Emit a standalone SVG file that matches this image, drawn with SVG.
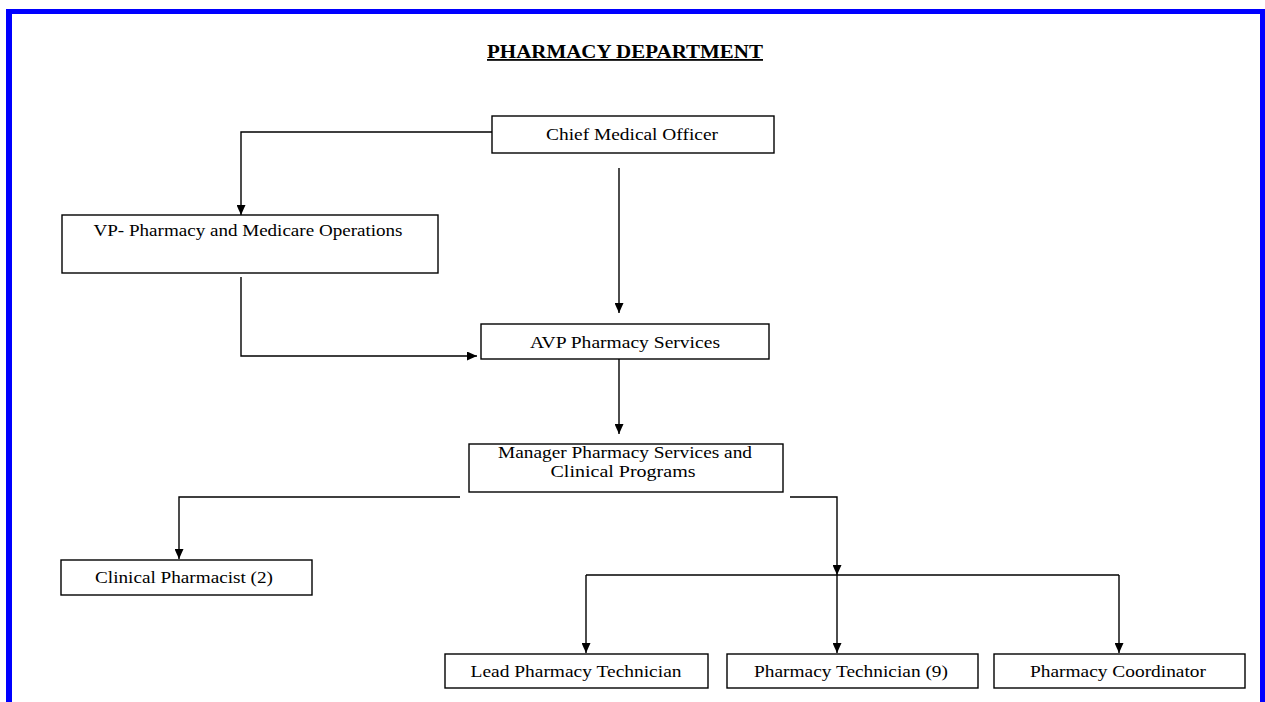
<svg xmlns="http://www.w3.org/2000/svg" width="1265" height="702" viewBox="0 0 1265 702">
<style>
.box{fill:#fff;stroke:#000;stroke-width:1.4}
.t{font-family:"Liberation Serif","Times New Roman",serif;font-size:17px;fill:#000;text-anchor:middle}
.title{font-family:"Liberation Serif","Times New Roman",serif;font-size:18px;font-weight:bold;fill:#000;text-anchor:middle;text-decoration:underline}
.c{fill:none;stroke:#000;stroke-width:1.4}
.frame{fill:#0000ff}
</style>
<defs>
<marker id="ah" markerUnits="userSpaceOnUse" markerWidth="10" markerHeight="9" refX="10" refY="4.5" orient="auto">
<path d="M0,0 L10,4.5 L0,9 z" fill="#000"/>
</marker>
</defs>
<rect width="1265" height="702" fill="#fff"/>
<g id="frame">
<rect class="frame" x="6" y="9" width="1259" height="5"/>
<rect class="frame" x="6" y="9" width="6" height="693"/>
<rect class="frame" x="1260" y="9" width="5" height="693"/>
</g>
<text class="title" x="625" y="58" textLength="276" lengthAdjust="spacingAndGlyphs">PHARMACY DEPARTMENT</text>
<g id="connectors">
<path class="c" d="M492,132 H241 V215" marker-end="url(#ah)"/>
<path class="c" d="M619,168 V313" marker-end="url(#ah)"/>
<path class="c" d="M241,277 V356 H477" marker-end="url(#ah)"/>
<path class="c" d="M619,359 V434" marker-end="url(#ah)"/>
<path class="c" d="M460,497 H179 V559" marker-end="url(#ah)"/>
<path class="c" d="M790,497 H837 V575" marker-end="url(#ah)"/>
<path class="c" d="M586,575 H1119"/>
<path class="c" d="M586,575 V653" marker-end="url(#ah)"/>
<path class="c" d="M837,575 V653" marker-end="url(#ah)"/>
<path class="c" d="M1119,575 V653" marker-end="url(#ah)"/>
</g>
<g id="cmo">
<rect class="box" x="492" y="116" width="282" height="37"/>
<text class="t" x="632" y="140" textLength="172" lengthAdjust="spacingAndGlyphs">Chief Medical Officer</text>
</g>
<g id="vp">
<rect class="box" x="62" y="215" width="376" height="58"/>
<text class="t" x="248" y="236" textLength="309" lengthAdjust="spacingAndGlyphs">VP- Pharmacy and Medicare Operations</text>
</g>
<g id="avp">
<rect class="box" x="481" y="324" width="288" height="35"/>
<text class="t" x="625" y="348" textLength="190" lengthAdjust="spacingAndGlyphs">AVP Pharmacy Services</text>
</g>
<g id="manager">
<rect class="box" x="469" y="444" width="314" height="48"/>
<text class="t" x="625" y="458" textLength="254" lengthAdjust="spacingAndGlyphs">Manager Pharmacy Services and</text>
<text class="t" x="623" y="477" textLength="145" lengthAdjust="spacingAndGlyphs">Clinical Programs</text>
</g>
<g id="clinical">
<rect class="box" x="61" y="560" width="251" height="35"/>
<text class="t" x="184" y="583" textLength="178" lengthAdjust="spacingAndGlyphs">Clinical Pharmacist (2)</text>
</g>
<g id="lead">
<rect class="box" x="445" y="654" width="263" height="34"/>
<text class="t" x="576" y="677" textLength="211" lengthAdjust="spacingAndGlyphs">Lead Pharmacy Technician</text>
</g>
<g id="tech">
<rect class="box" x="727" y="654" width="251" height="34"/>
<text class="t" x="851" y="677" textLength="194" lengthAdjust="spacingAndGlyphs">Pharmacy Technician (9)</text>
</g>
<g id="coord">
<rect class="box" x="994" y="654" width="251" height="34"/>
<text class="t" x="1118" y="677" textLength="176" lengthAdjust="spacingAndGlyphs">Pharmacy Coordinator</text>
</g>
</svg>
